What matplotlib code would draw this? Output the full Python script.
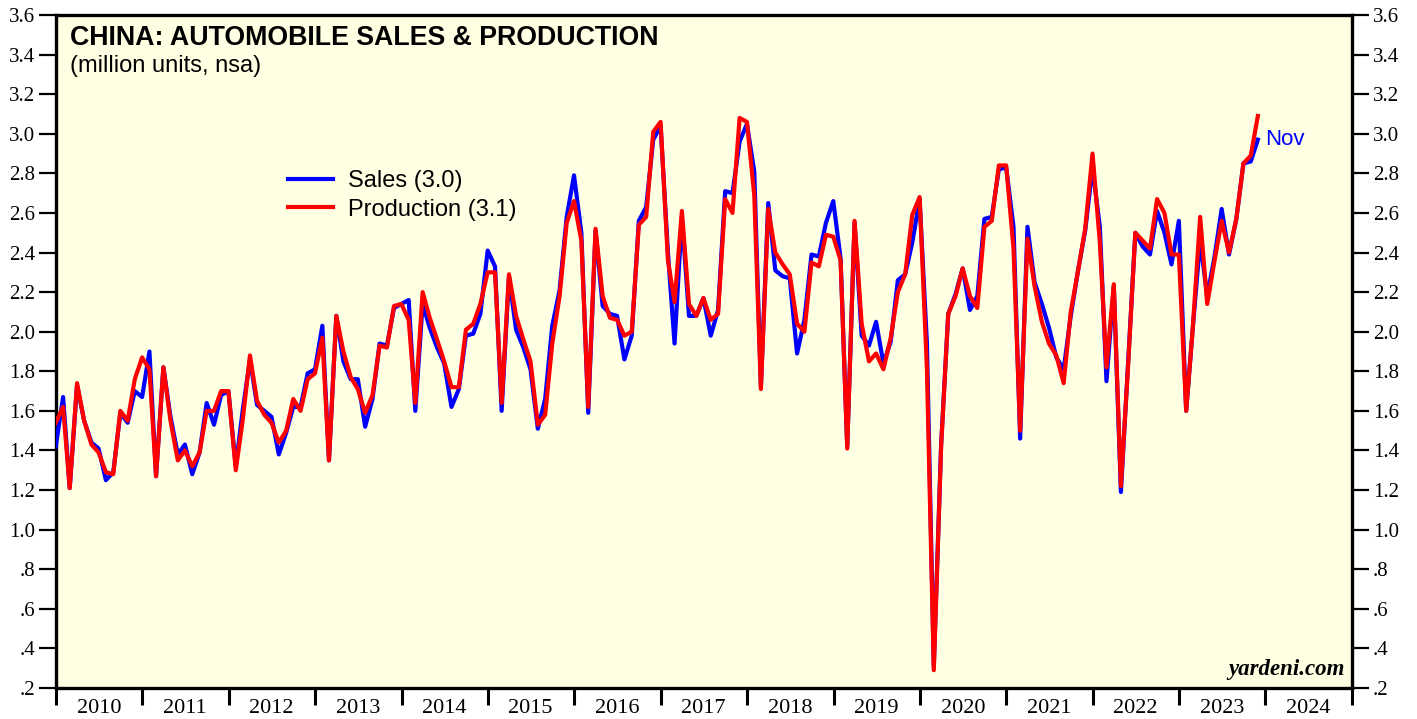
import matplotlib
matplotlib.use("Agg")
import matplotlib.pyplot as plt
import pandas as pd
import datetime as dt

# Monthly data, Dec 2009 .. Nov 2023 (million units, nsa)
start_month = "2009-12-31"
sales = [
    1.42,
    1.67, 1.21, 1.73, 1.55, 1.44, 1.41, 1.25, 1.29, 1.59, 1.54, 1.70, 1.67,
    1.90, 1.27, 1.82, 1.57, 1.38, 1.43, 1.28, 1.39, 1.64, 1.53, 1.68, 1.70,
    1.32, 1.60, 1.86, 1.63, 1.60, 1.57, 1.38, 1.49, 1.62, 1.62, 1.79, 1.81,
    2.03, 1.35, 2.08, 1.85, 1.76, 1.76, 1.52, 1.66, 1.94, 1.93, 2.12, 2.14,
    2.16, 1.60, 2.14, 2.02, 1.92, 1.84, 1.62, 1.71, 1.98, 1.99, 2.09, 2.41,
    2.33, 1.60, 2.28, 2.01, 1.92, 1.81, 1.51, 1.66, 2.03, 2.21, 2.58, 2.79,
    2.50, 1.59, 2.51, 2.13, 2.09, 2.08, 1.86, 1.98, 2.56, 2.63, 2.97, 3.04,
    2.40, 1.94, 2.58, 2.08, 2.08, 2.17, 1.98, 2.11, 2.71, 2.70, 2.96, 3.05,
    2.81, 1.72, 2.65, 2.31, 2.28, 2.27, 1.89, 2.06, 2.39, 2.38, 2.55, 2.66,
    2.37, 1.42, 2.55, 1.98, 1.93, 2.05, 1.84, 1.95, 2.26, 2.29, 2.45, 2.67,
    1.94, 0.31, 1.43, 2.09, 2.19, 2.32, 2.11, 2.18, 2.57, 2.58, 2.82, 2.83,
    2.53, 1.46, 2.53, 2.25, 2.14, 2.02, 1.87, 1.81, 2.08, 2.31, 2.51, 2.83,
    2.53, 1.75, 2.23, 1.19, 1.86, 2.50, 2.43, 2.39, 2.61, 2.50, 2.34, 2.56,
    1.60, 2.02, 2.46, 2.18, 2.38, 2.62, 2.39, 2.57, 2.85, 2.86, 2.97,
]
production = [
    1.54,
    1.62, 1.21, 1.74, 1.55, 1.43, 1.39, 1.29, 1.28, 1.60, 1.55, 1.76, 1.87,
    1.81, 1.27, 1.82, 1.55, 1.35, 1.40, 1.32, 1.39, 1.60, 1.60, 1.70, 1.70,
    1.30, 1.55, 1.88, 1.65, 1.58, 1.54, 1.44, 1.50, 1.66, 1.60, 1.76, 1.79,
    1.97, 1.35, 2.08, 1.90, 1.77, 1.71, 1.59, 1.68, 1.93, 1.92, 2.13, 2.14,
    2.06, 1.64, 2.20, 2.07, 1.96, 1.85, 1.72, 1.72, 2.01, 2.04, 2.14, 2.30,
    2.30, 1.64, 2.29, 2.08, 1.96, 1.85, 1.53, 1.58, 1.94, 2.18, 2.55, 2.66,
    2.46, 1.62, 2.52, 2.18, 2.07, 2.06, 1.98, 2.00, 2.54, 2.58, 3.01, 3.06,
    2.36, 2.15, 2.61, 2.14, 2.08, 2.17, 2.06, 2.09, 2.67, 2.60, 3.08, 3.06,
    2.69, 1.71, 2.62, 2.40, 2.34, 2.29, 2.04, 2.00, 2.35, 2.33, 2.49, 2.48,
    2.36, 1.41, 2.56, 2.04, 1.85, 1.89, 1.81, 1.97, 2.20, 2.29, 2.59, 2.68,
    1.81, 0.29, 1.42, 2.09, 2.18, 2.32, 2.18, 2.12, 2.53, 2.56, 2.84, 2.84,
    2.42, 1.50, 2.47, 2.23, 2.05, 1.94, 1.88, 1.74, 2.10, 2.31, 2.52, 2.90,
    2.45, 1.82, 2.24, 1.22, 1.84, 2.50, 2.46, 2.42, 2.67, 2.60, 2.39, 2.39,
    1.60, 2.02, 2.58, 2.14, 2.36, 2.56, 2.40, 2.57, 2.85, 2.89, 3.09,
]
years = list(range(2010, 2025))
ytick_values = [0.2, 0.4, 0.6, 0.8, 1.0, 1.2, 1.4, 1.6, 1.8, 2.0, 2.2, 2.4,
                2.6, 2.8, 3.0, 3.2, 3.4, 3.6]
ytick_labels = [".2", ".4", ".6", ".8", "1.0", "1.2", "1.4", "1.6", "1.8",
                "2.0", "2.2", "2.4", "2.6", "2.8", "3.0", "3.2", "3.4", "3.6"]
sales_label = "Sales (3.0)"
prod_label = "Production (3.1)"
last_label = "Nov"

dates = pd.date_range(start_month, periods=len(sales), freq="ME")

fig = plt.figure(figsize=(14.17, 7.19), dpi=100)
ax = fig.add_axes([56 / 1417, 31 / 719, 1296 / 1417, 673 / 719])
ax.set_facecolor("#FFFFE4")

ax.plot(dates, sales, color="#0000FF", lw=3.0, label=sales_label,
        solid_joinstyle="round", zorder=3)
ax.plot(dates, production, color="#FF0000", lw=3.0, label=prod_label,
        solid_joinstyle="round", zorder=4)

ax.set_xlim(dt.date(2010, 1, 1), dt.date(2025, 1, 1))
ax.set_ylim(0.2, 3.6)

# x axis: year boundaries as major ticks, labels in the middle of each year
ax.set_xticks([dt.date(y, 1, 1) for y in years] + [dt.date(2025, 1, 1)])
ax.set_xticklabels([])
ax.set_xticks([dt.date(y, 7, 1) for y in years], minor=True)
ax.set_xticklabels([str(y) for y in years], minor=True,
                   fontfamily="Liberation Serif", fontsize=16)
ax.tick_params(axis="x", which="major", direction="out", length=12,
               width=2.2, color="black")
ax.tick_params(axis="x", which="minor", length=0, pad=8)

# y axis on both sides
ax.set_yticks(ytick_values)
ax.set_yticklabels(ytick_labels, fontfamily="Liberation Serif", fontsize=15)
ax.tick_params(axis="y", which="major", direction="out", length=12, width=1.6,
               left=True, right=True, labelleft=True, labelright=True, pad=3)

for s in ax.spines.values():
    s.set_linewidth(2.4)
    s.set_color("black")

ax.text(0.0108, 0.985, "CHINA: AUTOMOBILE SALES & PRODUCTION",
        transform=ax.transAxes, ha="left", va="top",
        fontfamily="Liberation Sans", fontweight="bold", fontsize=19.3)
ax.text(0.0108, 0.94, "(million units, nsa)", transform=ax.transAxes,
        ha="left", va="top", fontfamily="Liberation Sans", fontsize=17)

leg = ax.legend(loc="upper left", bbox_to_anchor=(0.163, 0.801), frameon=False,
                handlelength=1.9, handletextpad=0.64, labelspacing=0.27,
                prop={"family": "Liberation Sans", "size": 17})

ax.annotate(last_label, xy=(dates[-1], sales[-1]), xytext=(5, 0),
            textcoords="offset points", ha="left", va="center",
            color="#0000FF", fontfamily="Liberation Sans", fontsize=16)

ax.text(0.994, 0.012, "yardeni.com", transform=ax.transAxes, ha="right",
        va="bottom", fontfamily="Liberation Serif", fontweight="bold",
        fontstyle="italic", fontsize=16.5)

fig.savefig("out.png", dpi=100)
